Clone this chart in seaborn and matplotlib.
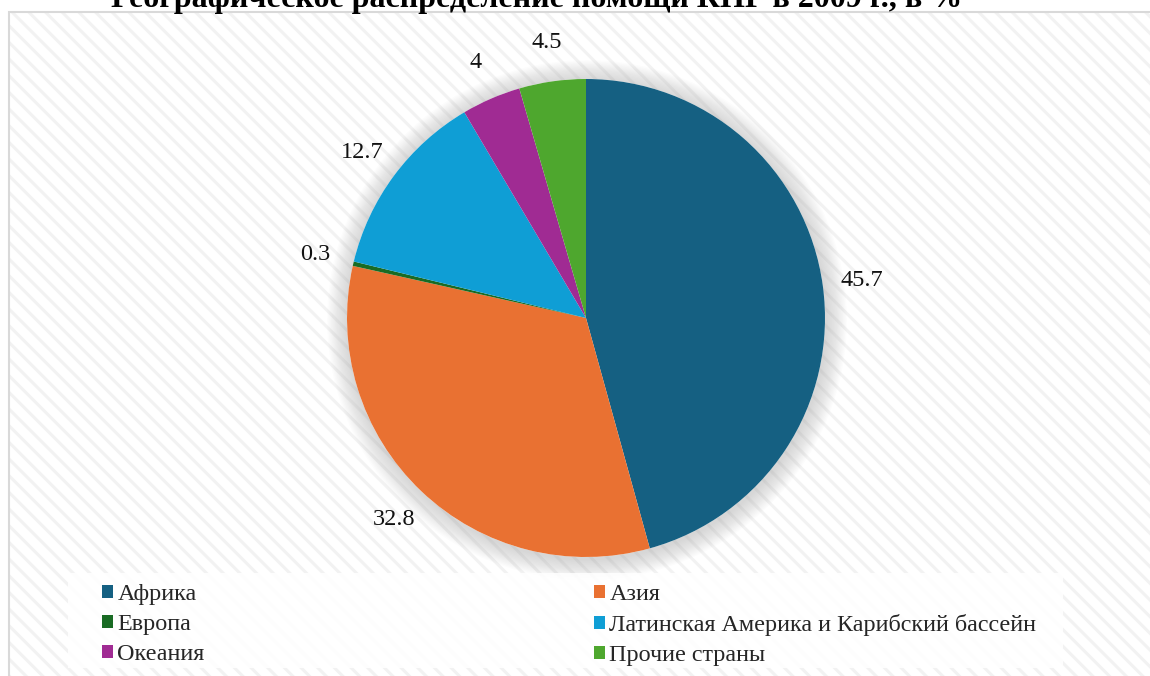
import matplotlib
matplotlib.use("Agg")
import matplotlib.pyplot as plt
from matplotlib.patches import Rectangle, Circle
import seaborn as sns

# Geographic distribution of Chinese aid in 2009, percent
regions = ["Африка", "Азия", "Европа",
           "Латинская Америка и Карибский бассейн", "Океания", "Прочие страны"]
shares = [45.7, 32.8, 0.3, 12.7, 4, 4.5]
share_labels = ["45.7", "32.8", "0.3", "12.7", "4", "4.5"]
colors = ["#156082", "#E97132", "#196B24", "#0F9ED5", "#A02B93", "#4EA72E"]
title = "Географическое распределение помощи КНР в 2009 г., в %"

sns.set_theme(style="white")
plt.rcParams["font.family"] = ["Liberation Serif", "DejaVu Serif"]
plt.rcParams["hatch.linewidth"] = 2.2

W, H = 1150, 676
fig = plt.figure(figsize=(W / 100, H / 100), dpi=100)
fig.patch.set_facecolor("white")

# one axes spanning the whole canvas, measured in pixels (y up)
ax = fig.add_axes([0, 0, 1, 1])
ax.set_xlim(0, W)
ax.set_ylim(0, H)
ax.set_aspect("equal")
ax.axis("off")

# chart area: hatched light background with thin grey border
ax.add_patch(Rectangle((9, -5), W, H - 12 + 5, facecolor="white",
                       edgecolor="#f2f2f2", hatch="\\\\", linewidth=0, zorder=0))
ax.add_patch(Rectangle((9, -5), W, H - 12 + 5, facecolor="none",
                       edgecolor="#d9d9d9", linewidth=1.5, zorder=1))

cx, cy, r = 586, H - 318, 239

# soft glow around the pie
for k in range(16, 0, -1):
    ax.add_patch(Circle((cx + 1, cy - 2), r + k * 1.3, facecolor="#a0a0a0",
                        alpha=0.028, linewidth=0, zorder=2))
ax.add_patch(Circle((cx, cy), r, facecolor="white", linewidth=0, zorder=2))

wedges, texts = ax.pie(shares, labels=share_labels, colors=colors,
                       startangle=90, counterclock=False,
                       center=(cx, cy), radius=r, labeldistance=1.165,
                       wedgeprops=dict(linewidth=0),
                       textprops=dict(fontsize=17.5, color="#111111"),
                       frame=True)
for w in wedges:
    w.set_zorder(3)
for t in texts:
    t.set_ha("center")
    t.set_va("center")
    t.set_zorder(4)
ax.set_xlim(0, W)
ax.set_ylim(0, H)
ax.axis("off")

# legend panel
ax.add_patch(Rectangle((68, H - 668), 995, 95, facecolor="white",
                       edgecolor="none", alpha=0.85, zorder=2))
order = [0, 2, 4, 1, 3, 5]
leg = ax.legend([wedges[i] for i in order], [regions[i] for i in order],
                ncol=2, frameon=False, fontsize=17.4,
                loc="upper left", bbox_to_anchor=(92 / W, 1 - 574 / H),
                handlelength=0.45, handleheight=0.45, handletextpad=0.2,
                columnspacing=16.1, labelspacing=0.38, borderaxespad=0)
leg.set_zorder(5)

fig.text(537 / W, 1 - 7 / H, title, ha="center", va="baseline",
         fontsize=23, fontweight="bold", color="black")

fig.savefig("out.png", dpi=100, facecolor="white")
